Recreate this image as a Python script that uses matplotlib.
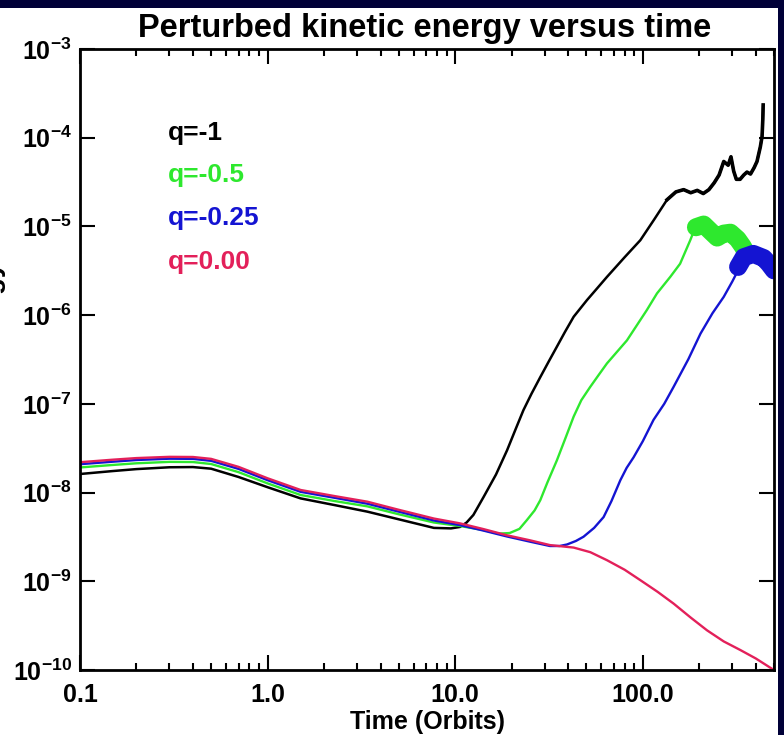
import numpy as np
import matplotlib
matplotlib.use('Agg')
import matplotlib.pyplot as plt
from matplotlib.ticker import LogLocator, NullLocator, FuncFormatter
from matplotlib.patches import Rectangle

plt.rcParams['font.family'] = 'Liberation Sans'
plt.rcParams['font.weight'] = 'bold'
plt.rcParams['mathtext.fontset'] = 'custom'
plt.rcParams['mathtext.bf'] = 'Liberation Sans:bold'
plt.rcParams['mathtext.rm'] = 'Liberation Sans:bold'

# perturbed kinetic energy (time in orbits)
x_black = np.array([0.1, 0.15, 0.2, 0.3, 0.4, 0.5, 0.7, 1.0, 1.5, 2.3, 3.4, 5.0, 7.7, 9.5,
                    10.6, 11.5, 12.5, 14.2, 16.5, 18.9, 21, 23.1, 25.5, 28.4, 31.5, 34.8,
                    38.5, 42.8, 50.4, 57, 64.4, 80, 97, 115, 134.6, 150, 165, 180, 195, 210,
                    225, 240, 255, 270, 285, 295, 305, 315, 330, 345, 359, 375, 392, 406,
                    423, 432, 436, 438])
y_black = np.array([1.62e-8, 1.75e-8, 1.84e-8, 1.93e-8, 1.94e-8, 1.86e-8, 1.5e-8, 1.15e-8,
                    8.6e-9, 7.2e-9, 6.1e-9, 5.0e-9, 4.0e-9, 3.95e-9, 4.1e-9, 4.6e-9, 5.6e-9,
                    9.0e-9, 1.6e-8, 3.0e-8, 5.2e-8, 8.5e-8, 1.3e-7, 2.0e-7, 3.0e-7, 4.4e-7,
                    6.5e-7, 9.6e-7, 1.48e-6, 2.0e-6, 2.7e-6, 4.5e-6, 7.0e-6, 1.2e-5, 2.0e-5,
                    2.45e-5, 2.6e-5, 2.4e-5, 2.55e-5, 2.35e-5, 2.6e-5, 3.1e-5, 3.8e-5,
                    5.4e-5, 4.9e-5, 6.1e-5, 4.2e-5, 3.4e-5, 3.4e-5, 3.8e-5, 4.1e-5, 3.9e-5,
                    4.6e-5, 5.4e-5, 7.9e-5, 1.03e-4, 1.6e-4, 2.34e-4])

x_green = [0.1, 0.15, 0.2, 0.3, 0.4, 0.5, 0.7, 1.0, 1.5, 2.3, 3.4, 5.0, 7.7, 10.6, 14,
           17, 19.5, 22, 24.1, 26.5, 28.4, 31, 34.8, 38.5, 42.8, 47, 52.5, 58, 64.4,
           82.3, 105, 119, 140, 158, 179, 194]
y_green = [1.92e-8, 2.05e-8, 2.14e-8, 2.22e-8, 2.21e-8, 2.1e-8, 1.7e-8, 1.27e-8, 9.4e-9,
           8.0e-9, 7.0e-9, 5.7e-9, 4.6e-9, 4.2e-9, 3.8e-9, 3.45e-9, 3.5e-9, 3.9e-9, 4.9e-9,
           6.3e-9, 8.2e-9, 1.3e-8, 2.3e-8, 4.0e-8, 7.2e-8, 1.1e-7, 1.56e-7, 2.1e-7,
           2.86e-7, 5.2e-7, 1.14e-6, 1.76e-6, 2.7e-6, 3.8e-6, 7.0e-6, 1.08e-5]
# saturated, fast-oscillating part
x_green_sat = [192, 211, 230, 249, 270, 293, 320, 340, 361]
y_green_sat = [9.8e-6, 1.05e-5, 8.8e-6, 7.5e-6, 8.3e-6, 8.5e-6, 7.2e-6, 6.0e-6, 4.8e-6]

x_blue = [0.1, 0.15, 0.2, 0.3, 0.4, 0.5, 0.7, 1.0, 1.5, 2.3, 3.4, 5.0, 7.7, 10.6, 14,
          18.9, 25, 32, 36, 39.4, 44, 48.3, 55, 61.8, 68, 75.9, 82, 89.3, 100, 114, 130,
          146, 175, 203, 235, 270, 300, 331]
y_blue = [2.09e-8, 2.23e-8, 2.33e-8, 2.41e-8, 2.4e-8, 2.28e-8, 1.85e-8, 1.38e-8, 1.02e-8,
          8.7e-9, 7.5e-9, 6.1e-9, 4.85e-9, 4.3e-9, 3.75e-9, 3.2e-9, 2.8e-9, 2.5e-9, 2.5e-9,
          2.6e-9, 2.85e-9, 3.18e-9, 4.0e-9, 5.3e-9, 8.0e-9, 1.38e-8, 1.9e-8, 2.5e-8,
          3.8e-8, 6.6e-8, 1.0e-7, 1.56e-7, 3.2e-7, 6.2e-7, 1.05e-6, 1.61e-6, 2.4e-6, 3.6e-6]
x_blue_sat = [322, 345, 388, 441, 470, 500]
y_blue_sat = [3.5e-6, 4.5e-6, 4.9e-6, 4.4e-6, 3.8e-6, 3.2e-6]

x_red = [0.1, 0.15, 0.2, 0.3, 0.4, 0.5, 0.7, 1.0, 1.5, 2.3, 3.4, 5.0, 7.7, 10.6, 14, 18.9,
         25, 32, 42.8, 52.5, 64.4, 80, 97, 120, 146, 180, 220, 270, 331, 400, 500]
y_red = [2.2e-8, 2.35e-8, 2.45e-8, 2.53e-8, 2.52e-8, 2.4e-8, 1.95e-8, 1.45e-8, 1.07e-8,
         9.1e-9, 7.9e-9, 6.4e-9, 5.1e-9, 4.5e-9, 3.9e-9, 3.3e-9, 2.9e-9, 2.56e-9, 2.4e-9,
         2.13e-9, 1.73e-9, 1.35e-9, 1.03e-9, 7.6e-10, 5.6e-10, 3.9e-10, 2.8e-10, 2.1e-10,
         1.68e-10, 1.35e-10, 1.0e-10]

labels = ['q=-1', 'q=-0.5', 'q=-0.25', 'q=0.00']
colors = ['black', '#2ee82e', '#1414d2', '#e3205a']

xticks = [0.1, 1.0, 10.0, 100.0]
xticklabels = ['0.1', '1.0', '10.0', '100.0']

fig = plt.figure(figsize=(7.84, 7.35), dpi=100, facecolor='#000038')
fig.add_artist(Rectangle((0, 0), 778/784, 1 - 8/735, transform=fig.transFigure,
                         facecolor='white', edgecolor='none', zorder=-1))
ax = fig.add_axes([0.102, 0.0884, 0.8852, 0.8449])

noisy = x_black >= 134
ax.plot(x_black, y_black, color=colors[0], lw=1.8)
ax.plot(x_black[noisy], y_black[noisy], color=colors[0], lw=2.6)
ax.plot(x_green, y_green, color=colors[1], lw=1.7)
ax.plot(x_green_sat, y_green_sat, color=colors[1], lw=13, solid_capstyle='round')
ax.plot(x_blue, y_blue, color=colors[2], lw=1.7)
ax.plot(x_blue_sat, y_blue_sat, color=colors[2], lw=13, solid_capstyle='round')
ax.plot(x_red, y_red, color=colors[3], lw=1.7)

ax.set_xscale('log')
ax.set_yscale('log')
ax.set_xlim(0.1, 500)
ax.set_ylim(1e-10, 1e-3)

ax.set_xticks(xticks)
ax.set_xticklabels(xticklabels)
ax.xaxis.set_minor_locator(LogLocator(base=10, subs=np.arange(2, 10)))
ax.yaxis.set_major_locator(LogLocator(base=10, numticks=20))
ax.yaxis.set_minor_locator(NullLocator())
ax.yaxis.set_major_formatter(FuncFormatter(lambda v, p: r'$\mathbf{10^{%d}}$' % round(np.log10(v))))

ax.tick_params(which='both', direction='in', top=True, right=True, width=1.5, labelsize=18)
ax.tick_params(which='major', length=11)
ax.tick_params(which='minor', length=5)
ax.tick_params(axis='x', pad=9)
ax.tick_params(axis='y', pad=6)
for s in ax.spines.values():
    s.set_linewidth(2)

ys = [0.865, 0.797, 0.728, 0.657]
for lab, c, y in zip(labels, colors, ys):
    ax.text(0.127, y, lab, transform=ax.transAxes, color=c, fontsize=19,
            fontweight='bold', va='center')

fig.text(0.541, 1 - 28/735, 'Perturbed kinetic energy versus time', ha='center',
         va='center', fontsize=23.5, fontweight='bold')
fig.text(0.545, 1 - 722/735, 'Time (Orbits)', ha='center', va='center',
         fontsize=18, fontweight='bold')
# y label is cut off at the left edge, only the descenders show
fig.text(6/784, 1 - 262/735, 'Kinetic Energy', rotation=90, ha='right', va='top',
         fontsize=20, fontweight='bold')

fig.savefig('out.png', dpi=100, facecolor=fig.get_facecolor())
